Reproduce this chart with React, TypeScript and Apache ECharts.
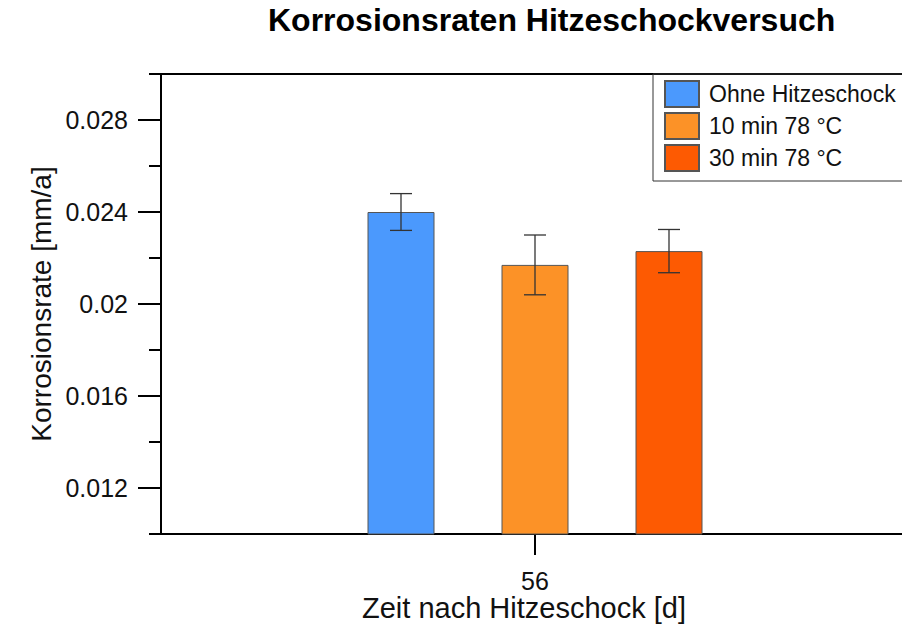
import React, { useEffect, useRef } from "react";
import * as echarts from "echarts";

const categories = ["56"];
const seriesNames = ["Ohne Hitzeschock", "10 min 78 °C", "30 min 78 °C"];
const means = [0.024, 0.0217, 0.0223];
const errors = [0.0008, 0.0013, 0.00094];
const majorTicks = [0.012, 0.016, 0.02, 0.024, 0.028];
const colors = ["#4b99fd", "#fc9227", "#fd5a02"];

const FONT = "Liberation Sans, Arial, sans-serif";
const BAR_WIDTH = 67;

export default function App() {
  const ref = useRef<HTMLDivElement>(null);
  useEffect(() => {
    if (!ref.current) return;
    const chart = echarts.init(ref.current, null, { renderer: "svg" });
    const axisLineStyle = { color: "#000", width: 2 };
    const barSeries = seriesNames.map((name, i) => ({
      name,
      type: "bar",
      xAxisIndex: 0,
      yAxisIndex: 0,
      barWidth: BAR_WIDTH,
      barGap: "100%",
      data: [means[i]],
      itemStyle: { color: colors[i], borderColor: "#555", borderWidth: 1 },
      z: 2,
    }));
    const errSeries = seriesNames.map((name, i) => ({
      name: name + " err",
      type: "custom",
      xAxisIndex: 0,
      yAxisIndex: 0,
      z: 5,
      encode: { x: 0, y: [1, 2] },
      data: [[0, means[i] - errors[i], means[i] + errors[i]]],
      renderItem: (params: any, api: any) => {
        const lo = api.coord([api.value(0), api.value(1)]);
        const hi = api.coord([api.value(0), api.value(2)]);
        const x = lo[0] + (i - 1) * BAR_WIDTH * 2;
        const style = { stroke: "#333", lineWidth: 1.3 };
        const cap = 11;
        return {
          type: "group",
          children: [
            { type: "line", shape: { x1: x, y1: lo[1], x2: x, y2: hi[1] }, style },
            { type: "line", shape: { x1: x - cap, y1: lo[1], x2: x + cap, y2: lo[1] }, style },
            { type: "line", shape: { x1: x - cap, y1: hi[1], x2: x + cap, y2: hi[1] }, style },
          ],
        };
      },
    }));
    chart.setOption({
      animation: false,
      backgroundColor: "#fff",
      textStyle: { fontFamily: FONT },
      title: {
        text: "Korrosionsraten Hitzeschockversuch",
        left: 268,
        top: 0,
        padding: [4, 0, 0, 0],
        textStyle: { fontSize: 32, fontWeight: "bold", color: "#000", fontFamily: FONT },
      },
      legend: {
        orient: "vertical",
        left: 653,
        top: 74,
        icon: "rect",
        itemWidth: 34,
        itemHeight: 26,
        itemGap: 4,
        padding: [6, 20, 9, 11],
        borderColor: "#333",
        borderWidth: 1,
        selectedMode: false,
        data: seriesNames,
        textStyle: {
          fontSize: 23,
          lineHeight: 26,
          color: "#111",
          fontFamily: FONT,
          padding: [0, 0, 0, 5],
        },
      },
      grid: { left: 161, right: -7, top: 74, bottom: 94, outerBoundsMode: "none" },
      xAxis: [
        {
          type: "category",
          position: "bottom",
          data: categories,
          axisLine: { show: true, lineStyle: axisLineStyle },
          axisTick: { show: true, alignWithLabel: true, length: 21, lineStyle: axisLineStyle },
          axisLabel: { fontSize: 25, color: "#111", margin: 34, fontFamily: FONT },
          name: "Zeit nach Hitzeschock [d]",
          nameLocation: "middle",
          nameGap: 59,
          nameMoveOverlap: false,
          nameTextStyle: {
            fontSize: 29,
            lineHeight: 30,
            color: "#111",
            fontFamily: FONT,
            padding: [0, 22, 0, 0],
          },
          splitLine: { show: false },
        },
        {
          type: "category",
          position: "top",
          data: categories,
          axisLine: { show: true, lineStyle: axisLineStyle },
          axisTick: { show: false },
          axisLabel: { show: false },
          splitLine: { show: false },
        },
      ],
      yAxis: [
        {
          type: "value",
          position: "left",
          min: 0.01,
          max: 0.03,
          interval: 0.002,
          axisLine: { show: true, lineStyle: axisLineStyle },
          axisTick: { show: true, length: 12, lineStyle: axisLineStyle },
          axisLabel: { show: false },
          splitLine: { show: false },
          name: "Korrosionsrate [mm/a]",
          nameLocation: "middle",
          nameGap: 106,
          nameMoveOverlap: false,
          nameTextStyle: { fontSize: 28, color: "#111", fontFamily: FONT },
        },
        {
          type: "value",
          position: "left",
          min: 0.01,
          max: 0.03,
          axisLine: { show: false },
          axisTick: { show: true, length: 23, lineStyle: axisLineStyle, customValues: majorTicks },
          axisLabel: {
            show: true,
            customValues: majorTicks,
            fontSize: 25,
            color: "#111",
            margin: 33,
            fontFamily: FONT,
            formatter: (v: number) => String(+Number(v).toFixed(3)),
          },
          splitLine: { show: false },
        },
      ],
      series: [...barSeries, ...errSeries],
    });
    return () => chart.dispose();
  }, []);
  return (
    <div
      ref={ref}
      style={{ position: "absolute", left: 0, top: 0, width: 902, height: 628 }}
    />
  );
}
